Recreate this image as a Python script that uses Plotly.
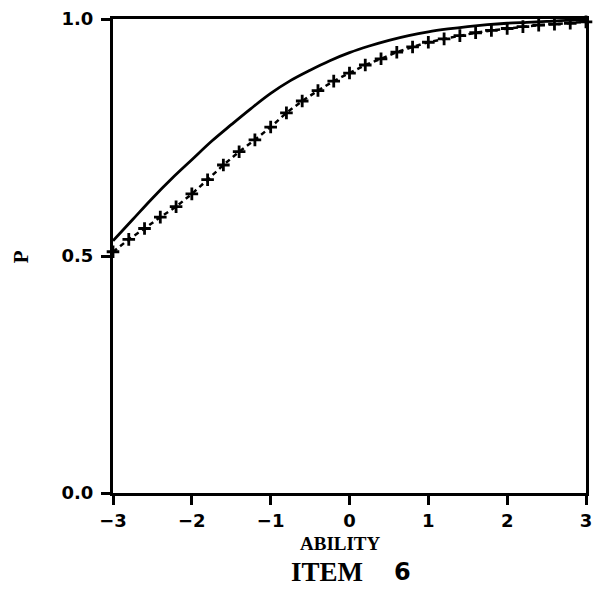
import plotly.graph_objects as go

# Solid curve
solid_x = [-3.0, -2.75, -2.5, -2.25, -2.0, -1.75, -1.5, -1.25, -1.0, -0.75, -0.5, -0.25,
           0.0, 0.25, 0.5, 0.75, 1.0, 1.25, 1.5, 1.75, 2.0, 2.25, 2.5, 2.75, 3.0]
solid_p = [0.532, 0.577, 0.622, 0.664, 0.703, 0.742, 0.777, 0.811, 0.843, 0.870, 0.892, 0.912,
           0.929, 0.943, 0.955, 0.965, 0.973, 0.979, 0.984, 0.988, 0.991, 0.993, 0.995, 0.997, 0.998]

# Dashed curve with crosses
cross_x = [-3.0, -2.8, -2.6, -2.4, -2.2, -2.0, -1.8, -1.6, -1.4, -1.2, -1.0, -0.8, -0.6, -0.4, -0.2,
           0.0, 0.2, 0.4, 0.6, 0.8, 1.0, 1.2, 1.4, 1.6, 1.8, 2.0, 2.2, 2.4, 2.6, 2.8, 3.0]
cross_p = [0.509, 0.535, 0.558, 0.582, 0.604, 0.631, 0.661, 0.692, 0.720, 0.745, 0.772, 0.802, 0.827,
           0.849, 0.869, 0.886, 0.903, 0.916, 0.930, 0.941, 0.951, 0.958, 0.965, 0.971, 0.976, 0.980,
           0.984, 0.987, 0.989, 0.991, 0.994]

x_ticks = [-3, -2, -1, 0, 1, 2, 3]
x_labels = ["\u22123", "\u22122", "\u22121", "0", "1", "2", "3"]
y_ticks = [0.0, 0.5, 1.0]
y_labels = ["0.0", "0.5", "1.0"]

fig = go.Figure()
fig.add_trace(go.Scatter(x=solid_x, y=solid_p, mode="lines",
                         line=dict(color="black", width=2.8, shape="spline"),
                         showlegend=False))
fig.add_trace(go.Scatter(x=cross_x, y=cross_p, mode="lines+markers",
                         line=dict(color="black", width=2.5, dash="5px,4px"),
                         marker=dict(symbol="cross-thin", size=9, color="black",
                                     line=dict(color="black", width=2.8)),
                         cliponaxis=False, showlegend=False))

tickfont = dict(family="DejaVu Sans", size=18, color="black", weight="bold")
fig.update_xaxes(range=[-3, 3], tickvals=x_ticks, ticktext=x_labels,
                 showgrid=False, zeroline=False, showline=True, linecolor="black",
                 linewidth=3, mirror=True, ticks="outside", ticklen=9, tickwidth=2.5,
                 tickcolor="black", tickfont=tickfont)
fig.update_yaxes(range=[0, 1], tickvals=y_ticks, ticktext=y_labels,
                 showgrid=False, zeroline=False, showline=True, linecolor="black",
                 linewidth=3, mirror=True, ticks="outside", ticklen=9, tickwidth=2.5,
                 tickcolor="black", tickfont=tickfont, ticklabelstandoff=4)

fig.add_annotation(text="ABILITY", x=0.48, y=-0.1055, xref="paper", yref="paper",
                   showarrow=False, xanchor="center", yanchor="middle",
                   font=dict(family="Liberation Serif", size=19, color="black", weight="bold"))
fig.add_annotation(text="ITEM", x=0.453, y=-0.1667, xref="paper", yref="paper",
                   showarrow=False, xanchor="center", yanchor="middle",
                   font=dict(family="Liberation Serif", size=27, color="black", weight="bold"))
fig.add_annotation(text="6", x=0.612, y=-0.1667, xref="paper", yref="paper",
                   showarrow=False, xanchor="center", yanchor="middle",
                   font=dict(family="DejaVu Sans", size=24, color="black", weight="bold"))
fig.add_annotation(text="P", x=-0.194, y=0.498, xref="paper", yref="paper",
                   showarrow=False, xanchor="center", yanchor="middle", textangle=-90,
                   font=dict(family="Liberation Serif", size=21, color="black", weight="bold"))

fig.update_layout(width=599, height=590, margin=dict(l=113, r=7, t=19, b=97),
                  plot_bgcolor="white", paper_bgcolor="white")

fig.write_html("out.html")
